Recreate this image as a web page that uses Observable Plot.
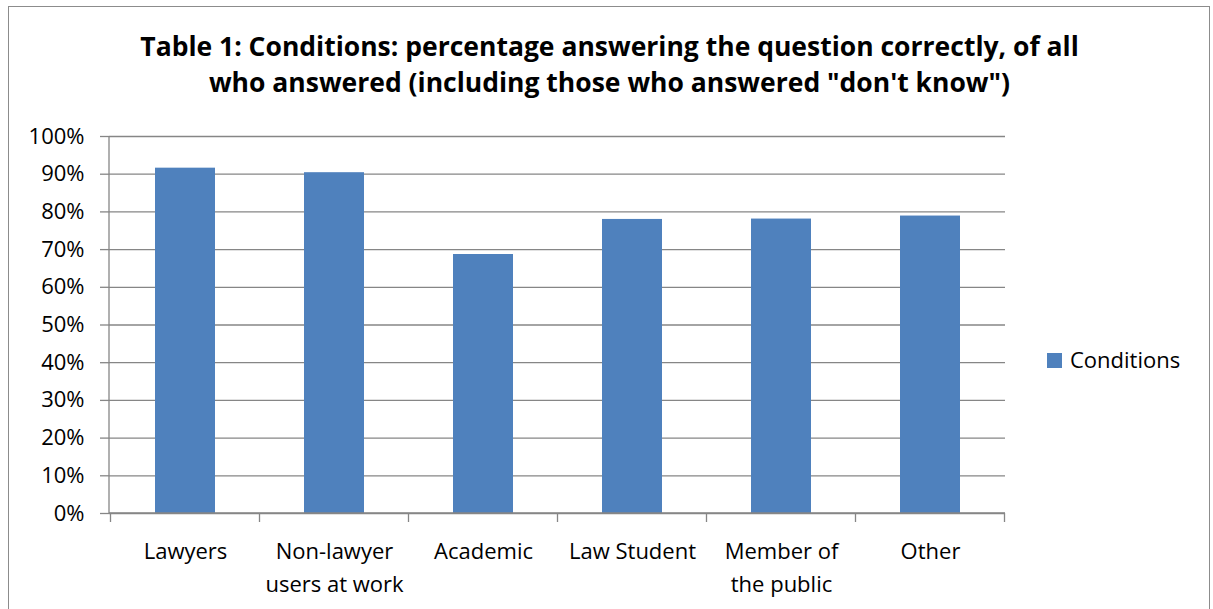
<!DOCTYPE html>
<html>
<head>
<meta charset="utf-8">
<script src="https://cdn.jsdelivr.net/npm/d3@7"></script>
<script src="https://cdn.jsdelivr.net/npm/@observablehq/plot@0.6"></script>
<style>
  html, body { margin: 0; padding: 0; background: #fff; }
  #wrap { position: relative; width: 1213px; height: 609px; overflow: hidden; font-family: "Open Sans", sans-serif; }
  #border { position: absolute; left: 8px; top: 6px; width: 1202px; height: 620px; border: 1.5px solid #8c8c8c; box-sizing: border-box; }
  #title { position: absolute; left: 8px; width: 1203px; top: 28px; text-align: center; font-weight: bold; font-size: 26.5px; line-height: 36px; color: #000; }
  #legend { position: absolute; left: 1047px; top: 344px; font-size: 22px; color: #000; display: flex; align-items: center; }
  #legend .sw { width: 15px; height: 15px; background: #4F81BD; margin-right: 8px; margin-top: 3px; }
  #chart { position: absolute; left: 0; top: 0; }
</style>
</head>
<body>
<div id="wrap">
  <div id="chart"></div>
  <div id="border"></div>
  <div id="title">Table 1: Conditions: percentage answering the question correctly, of all<br>who answered (including those who answered "don't know")</div>
  <div id="legend"><div class="sw"></div><span>Conditions</span></div>
</div>
<script>
const categories = ["Lawyers", "Non-lawyer\nusers at work", "Academic", "Law Student", "Member of\nthe public", "Other"];
const values = [91.6, 90.4, 68.7, 78.0, 78.1, 78.9];
const yTicks = [0, 10, 20, 30, 40, 50, 60, 70, 80, 90, 100];
const seriesName = "Conditions";

const data = categories.map((c, i) => ({category: c, value: values[i], series: seriesName}));
const gridColor = "#868686";

function axisLines(index, scales, values, dims) {
  const x = scales.x, y = scales.y;
  const g = d3.create("svg:g");
  const left = dims.marginLeft, right = dims.width - dims.marginRight;
  const y0 = y(0), y1 = y(100);
  const step = x.step ? x.step() : (x(categories[1]) - x(categories[0]));
  const bw = x.bandwidth ? x.bandwidth() : 0;
  g.append("line").attr("x1", left).attr("x2", left).attr("y1", y1).attr("y2", y0)
    .attr("stroke", gridColor).attr("stroke-width", 1.3);
  g.append("line").attr("x1", left).attr("x2", right).attr("y1", y0).attr("y2", y0)
    .attr("stroke", gridColor).attr("stroke-width", 1.3);
  const bounds = categories.map(c => x(c) + bw / 2 - step / 2);
  bounds.push(x(categories[categories.length - 1]) + bw / 2 + step / 2);
  for (const b of bounds) {
    g.append("line").attr("x1", b).attr("x2", b).attr("y1", y0).attr("y2", y0 + 9)
      .attr("stroke", gridColor).attr("stroke-width", 1.3);
  }
  return g.node();
}

const chart = Plot.plot({
  width: 1213,
  height: 609,
  marginTop: 136,
  marginBottom: 96,
  marginLeft: 109,
  marginRight: 208,
  style: {fontFamily: "Open Sans, sans-serif", fontSize: "22px", color: "#000", background: "transparent"},
  x: {domain: categories, paddingInner: 0.6, paddingOuter: 0.3, label: null},
  y: {domain: [0, 100], label: null},
  marks: [
    Plot.gridY(yTicks, {stroke: gridColor, strokeOpacity: 1, strokeWidth: 1.3}),
    Plot.barY(data, {x: "category", y: "value", fill: "#4F81BD"}),
    axisLines,
    Plot.axisY(yTicks, {tickSize: 9, tickPadding: 16, stroke: gridColor, strokeWidth: 1.3, tickFormat: d => d + "%", fontSize: 22, fill: "#000", label: null}),
    Plot.axisX({tickSize: 0, tickPadding: 22, fontSize: 22, fill: "#000", label: null, lineHeight: 1.5})
  ]
});
document.getElementById("chart").appendChild(chart);
</script>
</body>
</html>
